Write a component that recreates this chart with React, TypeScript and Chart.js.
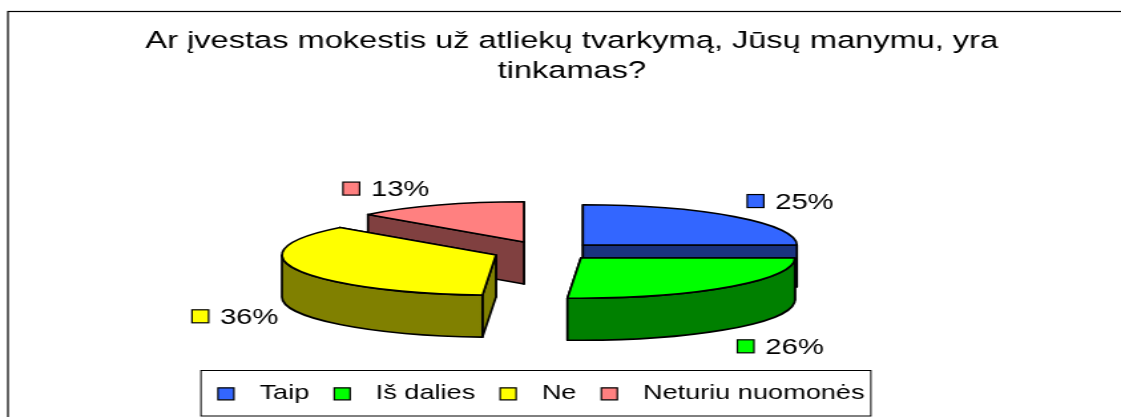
import React, { useEffect, useRef } from "react";
import { Chart, registerables } from "chart.js";

Chart.register(...registerables);

const titleLines = ["Ar įvestas mokestis už atliekų tvarkymą, Jūsų manymu, yra", "tinkamas?"];
const categories = ["Taip", "Iš dalies", "Ne", "Neturiu nuomonės"];
const shares = [25, 26, 36, 13];
const topColors = ["#3366FF", "#00FF00", "#FFFF00", "#FF8080"];
const wallColors = ["#1A3380", "#008000", "#808000", "#804040"];

// The source picture is horizontally stretched: the canvas is drawn narrow and widened by CSS.
const STRETCH = 1.33;
const PAGE_W = 1121;
const PAGE_H = 417;
const CANVAS_W = Math.round(PAGE_W / STRETCH);
const FONT = '"Liberation Sans", Arial, sans-serif';

const SQUASH = 0.25;
const DEPTH = 42;
const PIE_X = 540 / STRETCH;
const PIE_Y = 251;
const explode = [
  [43 / STRETCH, -6],
  [41 / STRETCH, 7],
  [-44 / STRETCH, 4],
  [-16 / STRETCH, -9],
];
const labelNudge = [
  [13 / STRETCH, -15.5],
  [10 / STRETCH, 59],
  [-105 / STRETCH, 46.5],
  [-96 / STRETCH, -16.5],
];
const paintOrder = [3, 2, 0, 1];

const pie3d = {
  id: "pie3d",
  beforeDraw(chart: any) {
    const { ctx } = chart;
    ctx.save();
    ctx.fillStyle = "#fff";
    ctx.fillRect(0, 0, chart.width, chart.height);
    ctx.strokeStyle = "#000";
    ctx.lineWidth = 1.2;
    ctx.strokeRect(6, 11.5, chart.width + 20, chart.height + 20);
    ctx.lineWidth = 1;
    ctx.strokeRect(201 / STRETCH, 370.5, 670 / STRETCH, 45.5);
    ctx.restore();
  },
  afterLayout(chart: any) {
    const shift = -23;
    chart.legend.left += shift;
    chart.legend.right += shift;
    chart.legend.top -= 3;
    chart.legend.bottom -= 3;
  },
  beforeDatasetDraw(chart: any) {
    const { ctx } = chart;
    const arcs = chart.getDatasetMeta(0).data;
    ctx.save();
    ctx.lineWidth = 1.7;
    ctx.lineJoin = "round";
    ctx.strokeStyle = "#000";
    for (const i of paintOrder) {
      const el = arcs[i];
      const a0 = el.startAngle;
      const a1 = el.endAngle;
      const rx = el.outerRadius;
      const ry = rx * SQUASH;
      const cx = PIE_X + explode[i][0];
      const cy = PIE_Y + explode[i][1];
      const rim = (a: number) => [cx + rx * Math.cos(a), cy + ry * Math.sin(a)];
      const face = (a: number) => {
        const [x, y] = rim(a);
        ctx.beginPath();
        ctx.moveTo(cx, cy);
        ctx.lineTo(x, y);
        ctx.lineTo(x, y + DEPTH);
        ctx.lineTo(cx, cy + DEPTH);
        ctx.closePath();
        ctx.fillStyle = wallColors[i];
        ctx.fill();
        ctx.stroke();
      };
      const faces = [a0, a1].sort((p, q) => Math.sin(p) - Math.sin(q));
      faces.forEach(face);
      // outer wall: only the part of the rim turned to the viewer
      const k0 = Math.floor(a0 / (2 * Math.PI));
      for (const k of [k0, k0 + 1]) {
        const from = Math.max(a0, k * 2 * Math.PI);
        const to = Math.min(a1, k * 2 * Math.PI + Math.PI);
        if (to > from) {
          ctx.beginPath();
          ctx.ellipse(cx, cy, rx, ry, 0, from, to);
          ctx.ellipse(cx, cy + DEPTH, rx, ry, 0, to, from, true);
          ctx.closePath();
          ctx.fillStyle = wallColors[i];
          ctx.fill();
          ctx.stroke();
        }
      }
      ctx.beginPath();
      ctx.moveTo(cx, cy);
      ctx.ellipse(cx, cy, rx, ry, 0, a0, a1);
      ctx.closePath();
      ctx.fillStyle = topColors[i];
      ctx.fill();
      ctx.stroke();
    }
    ctx.restore();
    return false;
  },
  afterDatasetsDraw(chart: any) {
    const { ctx } = chart;
    const arcs = chart.getDatasetMeta(0).data;
    ctx.save();
    ctx.font = `22px ${FONT}`;
    ctx.textBaseline = "middle";
    ctx.textAlign = "left";
    arcs.forEach((el: any, i: number) => {
      const mid = (el.startAngle + el.endAngle) / 2;
      const rx = el.outerRadius;
      const x = PIE_X + explode[i][0] + rx * Math.cos(mid) + labelNudge[i][0];
      const y = PIE_Y + explode[i][1] + rx * SQUASH * Math.sin(mid) + labelNudge[i][1];
      ctx.fillStyle = topColors[i];
      ctx.strokeStyle = "#000";
      ctx.lineWidth = 1.2;
      ctx.fillRect(x, y - 6.5, 12.5, 13);
      ctx.strokeRect(x, y - 6.5, 12.5, 13);
      ctx.fillStyle = "#000";
      ctx.fillText(`${shares[i]}%`, x + 21, y + 1.5);
    });
    ctx.restore();
  },
};

export default function App() {
  const ref = useRef<HTMLCanvasElement>(null);
  useEffect(() => {
    document.body.style.margin = "0";
    document.body.style.background = "#fff";
    const chart = new Chart(ref.current as HTMLCanvasElement, {
      type: "pie",
      data: {
        labels: categories,
        datasets: [
          {
            data: shares,
            backgroundColor: topColors,
            borderColor: "#000",
            borderWidth: 1.2,
            radius: 214 / STRETCH,
          } as any,
        ],
      },
      plugins: [pie3d as any],
      options: {
        responsive: false,
        animation: false,
        devicePixelRatio: 1,
        layout: { padding: { left: 17 } },
        plugins: {
          tooltip: { enabled: false },
          title: {
            display: true,
            text: titleLines,
            color: "#000",
            font: { family: FONT, size: 24.5, weight: "normal", lineHeight: 1.2 },
            padding: { top: 27, bottom: 10 },
          },
          legend: {
            display: true,
            position: "bottom",
            labels: {
              color: "#000",
              font: { family: FONT, size: 20.4 },
              boxWidth: 12,
              boxHeight: 12,
              padding: 18.75,
              generateLabels: (c: any) =>
                (Chart as any).overrides.pie.plugins.legend.labels
                  .generateLabels(c)
                  .map((it: any) => ({ ...it, text: " \u2006" + it.text })),
            },
          },
        },
      } as any,
    });
    return () => chart.destroy();
  }, []);
  return (
    <div style={{ position: "absolute", left: 0, top: 0, width: PAGE_W, height: PAGE_H, overflow: "hidden" }}>
      <canvas
        ref={ref}
        width={CANVAS_W}
        height={PAGE_H}
        style={{ display: "block", width: PAGE_W, height: PAGE_H }}
      />
    </div>
  );
}
